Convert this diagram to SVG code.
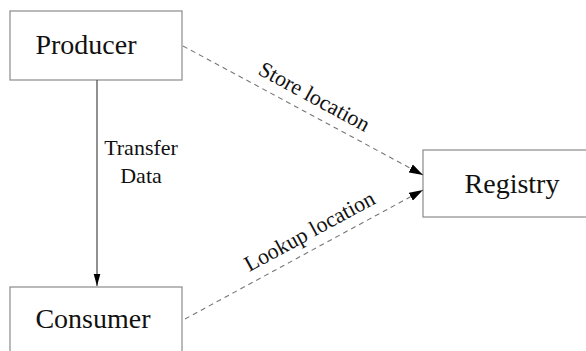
<svg xmlns="http://www.w3.org/2000/svg" width="586" height="351" viewBox="0 0 586 351">
<style>
.box{fill:#fff;stroke:#8a8a8a;stroke-width:1.2}
.lbl{font-family:"Liberation Serif","Times New Roman",serif;fill:#111}
.node{font-size:28px}
.edge{font-size:22px}
.dash{stroke:#777;stroke-width:1.1;stroke-dasharray:5 4;fill:none}
.solid{stroke:#555;stroke-width:1.3;fill:none}
</style>
<defs>
<marker id="arrBig" markerWidth="12" markerHeight="20" refX="20" refY="5.5" orient="auto" markerUnits="userSpaceOnUse" viewBox="0 0 20 11">
<path d="M0,0 L20,5.5 L0,11 Z" fill="#000"/>
</marker>
<marker id="arrSmall" markerWidth="14" markerHeight="9" refX="14" refY="4.5" orient="auto" markerUnits="userSpaceOnUse" viewBox="0 0 14 9">
<path d="M0,0 L14,4.5 L0,9 Z" fill="#000"/>
</marker>
</defs>
<g id="producer">
<rect class="box" x="10" y="11" width="172" height="69"/>
<text class="lbl node" x="86" y="54" text-anchor="middle">Producer</text>
</g>
<g id="consumer">
<rect class="box" x="10" y="287" width="172" height="80"/>
<text class="lbl node" x="93" y="328" text-anchor="middle">Consumer</text>
</g>
<g id="registry">
<rect class="box" x="423" y="150" width="180" height="67"/>
<text class="lbl node" x="512" y="193" text-anchor="middle">Registry</text>
</g>
<g id="connectors">
<line class="solid" x1="97" y1="80" x2="97" y2="286" marker-end="url(#arrBig)"/>
<text class="lbl edge" x="141" y="155" text-anchor="middle">Transfer</text>
<text class="lbl edge" x="141" y="183" text-anchor="middle">Data</text>
<line class="dash" x1="183" y1="46" x2="423" y2="175" marker-end="url(#arrSmall)"/>
<text class="lbl edge" transform="translate(311,103) rotate(28.5)" text-anchor="middle">Store location</text>
<line class="dash" x1="185" y1="319" x2="423" y2="190" marker-end="url(#arrSmall)"/>
<text class="lbl edge" transform="translate(313,237.5) rotate(-28.5)" text-anchor="middle">Lookup location</text>
</g>
</svg>
